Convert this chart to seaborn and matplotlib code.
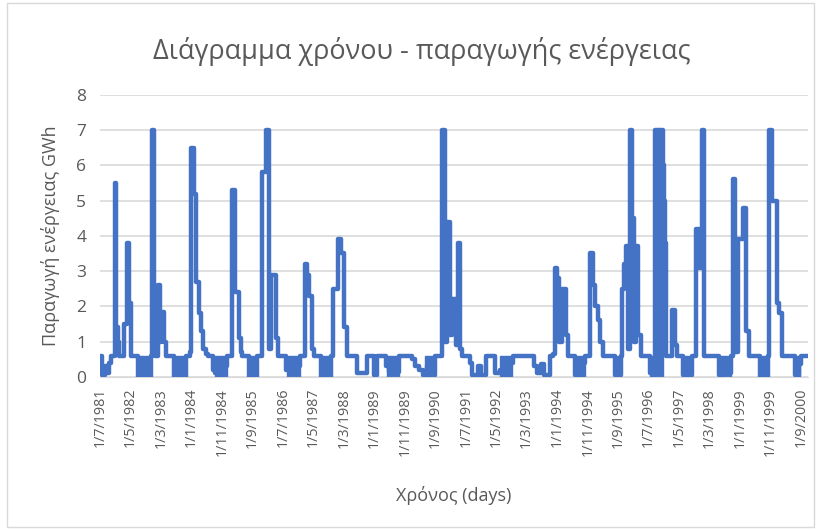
import numpy as np
import pandas as pd
import seaborn as sb
import matplotlib.pyplot as plt
import matplotlib.dates as mdates
from matplotlib.patches import Rectangle

# breakpoints: day since 1/7/1981 and energy (GWh)
# the value holds until the next breakpoint
start = "1981-07-01"
day = [0, 20, 50, 65, 90, 110, 150, 160, 175, 190, 240, 265, 285, 305, 380,
       510, 520, 535, 550, 575, 600, 610, 640, 655, 740, 860, 900, 910, 940,
       960, 990, 1010, 1030, 1060, 1080, 1130, 1150, 1180, 1230, 1270, 1320,
       1350, 1390, 1410, 1420, 1490, 1570, 1620, 1660, 1685, 1710, 1760, 1780,
       1860, 1900, 1950, 2000, 2050, 2070, 2090, 2120, 2140, 2210, 2310, 2330,
       2380, 2410, 2440, 2470, 2570, 2670, 2740, 2770, 2860, 2890, 2990, 3120,
       3150, 3190, 3230, 3270, 3290, 3350, 3410, 3440, 3460, 3490, 3510, 3550,
       3570, 3590, 3610, 3690, 3710, 3770, 3800, 3850, 3940, 3990, 4020, 4090,
       4120, 4330, 4360, 4400, 4430, 4490, 4520, 4540, 4560, 4580, 4610, 4650,
       4670, 4740, 4810, 4840, 4890, 4920, 4940, 4970, 4990, 5020, 5140, 5200,
       5210, 5230, 5250, 5270, 5290, 5310, 5330, 5350, 5370, 5400, 5490, 5520,
       5540, 5620, 5630, 5640, 5650, 5660, 5710, 5740, 5760, 5820,
       5910, 5950, 5980, 6010, 6030, 6180, 6220, 6260, 6300, 6320, 6340, 6370,
       6420, 6450, 6480, 6590, 6670, 6680, 6710, 6760, 6780, 6810, 6940, 6980,
       7000, 7070]
energy = [0.6, 0.05, 0.3, 0.1, 0.4, 0.6, 5.5, 1.4, 1.0, 0.6, 1.5, 3.8, 2.1, 0.6, 0.0,
          0.6, 7.0, 1.2, 0.6, 2.6, 1.0, 1.85, 1.0, 0.6, 0.0, 0.6, 0.7, 6.5, 5.2,
          2.7, 1.8, 1.3, 0.8, 0.65, 0.6, 0.2, 0.1, 0.0, 0.3, 0.6, 5.3,
          2.4, 1.1, 0.7, 0.6, 0.0, 0.6, 5.8, 7.0, 0.8, 2.9, 1.1, 0.6,
          0.2, 0.1, 0.3, 0.6, 3.2, 2.9, 2.3, 0.8, 0.6, 0.0, 0.6, 2.5,
          3.9, 3.5, 1.4, 0.6, 0.1, 0.6, 0.05, 0.6, 0.3, 0.15, 0.6, 0.5,
          0.3, 0.2, 0.05, 0.3, 0.05, 0.6, 7.0, 1.0, 4.4, 1.2, 2.2, 0.9,
          3.8, 0.8, 0.6, 0.4, 0.05, 0.3, 0.05, 0.6, 0.1, 0.2, 0.05, 0.4,
          0.6, 0.3, 0.1, 0.35, 0.05, 0.6, 0.65, 3.1, 2.8, 1.0, 2.5, 1.2,
          0.6, 0.05, 0.4, 0.6, 3.5, 2.6, 2.0, 1.6, 1.0, 0.6, 0.05, 0.6,
          2.5, 3.2, 3.7, 0.8, 7.0, 4.5, 1.0, 3.7, 1.2, 0.6, 0.1, 0.0,
          7.0, 6.0, 5.0, 3.8, 0.6, 0.6, 1.9, 0.9, 0.6, 0.05,
          0.6, 4.2, 3.1, 7.0, 0.6, 0.05, 0.3, 0.1, 0.6, 5.6, 0.7, 3.9,
          4.8, 1.3, 0.6, 0.0, 0.6, 7.0, 5.0, 2.1, 1.8, 0.6, 0.05, 0.35,
          0.6, 0.6]

# spans where the daily values flicker so fast that the line looks solid
flick_start = [380, 740, 1150, 1490, 1870, 2210, 2870, 3250, 3990, 4740,
               5140, 5490, 5540, 5820, 6180, 6590, 6940]
flick_end = [510, 860, 1270, 1570, 2000, 2310, 2990, 3350, 4110, 4840,
             5200, 5540, 5620, 5910, 6300, 6670, 6990]
flick_top = [0.6, 0.6, 0.6, 0.6, 0.6, 0.6, 0.6, 0.6, 0.6, 0.6,
             0.6, 0.6, 7.0, 0.6, 0.6, 0.6, 0.6]

tick_labels = ["1/7/1981", "1/5/1982", "1/3/1983", "1/1/1984", "1/11/1984",
               "1/9/1985", "1/7/1986", "1/5/1987", "1/3/1988", "1/1/1989",
               "1/11/1989", "1/9/1990", "1/7/1991", "1/5/1992", "1/3/1993",
               "1/1/1994", "1/11/1994", "1/9/1995", "1/7/1996", "1/5/1997",
               "1/3/1998", "1/1/1999", "1/11/1999", "1/9/2000"]

t0 = pd.Timestamp(start)
df = pd.DataFrame({"date": t0 + pd.to_timedelta(day, unit="D"), "energy": energy})

sb.set_style("white")
plt.rcParams["font.family"] = ["Open Sans", "DejaVu Sans"]
grey = "#595959"
blue = "#4472C4"

fig = plt.figure(figsize=(8.21, 5.30), dpi=100)
ax = fig.add_axes([0.122, 0.289, 0.862, 0.532])

for a, b, top in zip(flick_start, flick_end, flick_top):
    span = mdates.date2num(t0 + pd.to_timedelta([a, b], unit="D"))
    ax.add_patch(Rectangle((span[0], 0), span[1] - span[0], top,
                           facecolor=blue, edgecolor=blue, linewidth=1,
                           alpha=1, zorder=2))

sns = sb.lineplot(data=df, x="date", y="energy", ax=ax, color=blue,
                  linewidth=3.2, drawstyle="steps-post", solid_joinstyle="round",
                  solid_capstyle="round", zorder=3)

ax.set_ylim(0, 8)
ax.set_yticks(range(0, 9))
ax.set_xlim(df["date"].iloc[0], df["date"].iloc[-1])
ticks = pd.to_datetime(tick_labels, format="%d/%m/%Y")
ax.set_xticks(mdates.date2num(ticks))
ax.set_xticklabels(tick_labels, rotation=90)
ax.grid(axis="y", color="#d9d9d9", linewidth=1.2)
ax.set_axisbelow(True)
for s in ["top", "right", "left"]:
    ax.spines[s].set_visible(False)
ax.spines["bottom"].set_color("#d9d9d9")
ax.tick_params(axis="x", colors="#bfbfbf", length=5, width=1, labelcolor=grey,
               labelsize=10.3, pad=3)
ax.tick_params(axis="y", length=0, labelcolor=grey, labelsize=12.5, pad=10)

ax.set_xlabel("Χρόνος (days)", fontsize=13, color=grey, labelpad=22)
ax.set_ylabel("Παραγωγή ενέργειας GWh", fontsize=13, color=grey, labelpad=12)
fig.text(0.514, 0.903, "Διάγραμμα χρόνου - παραγωγής ενέργειας", ha="center",
         va="center", fontsize=19.5, color=grey)

fig.patches.append(Rectangle((0.008, 0.006), 0.984, 0.988, transform=fig.transFigure,
                             fill=False, edgecolor="#d9d9d9", linewidth=1))

plt.savefig("out.png", dpi=100)
